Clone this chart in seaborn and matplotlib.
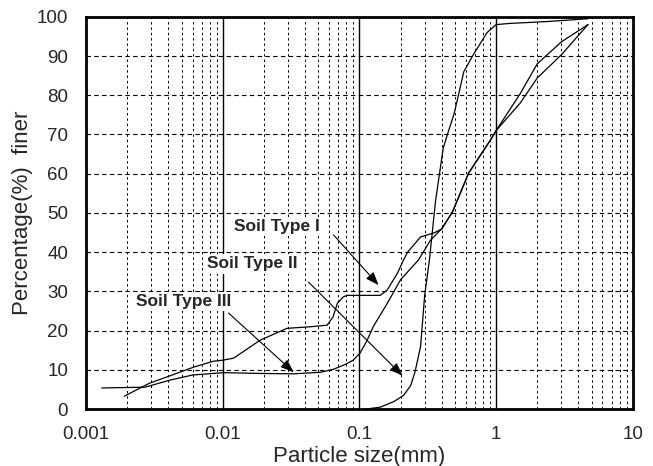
import numpy as np
import pandas as pd
import matplotlib
matplotlib.use("Agg")
import matplotlib.pyplot as plt
from matplotlib.ticker import LogLocator, FixedLocator, NullFormatter
import seaborn as sns

# Grain size distribution curves
soil_1_size = [0.0019, 0.0029, 0.0045, 0.0061, 0.0085, 0.0101, 0.012, 0.0188, 0.0295, 0.044,
               0.058, 0.064, 0.069, 0.076, 0.081, 0.10, 0.142, 0.16, 0.19, 0.21, 0.225, 0.28,
               0.35, 0.40, 0.48, 0.63, 0.91, 1.0, 1.5, 2.0, 3.0, 4.7]
soil_1_finer = [3.3, 6.6, 9.0, 10.7, 12.2, 12.5, 13.0, 17.6, 20.6, 21.0,
                21.4, 23.5, 27.0, 28.6, 29.0, 29.0, 29.0, 30.4, 34.7, 38.0, 40.0, 43.9,
                44.9, 45.9, 50.3, 60.2, 68.6, 71.0, 80.4, 88.0, 93.6, 98.0]

soil_2_size = [0.11, 0.142, 0.18, 0.21, 0.237, 0.255, 0.28, 0.30, 0.325, 0.36, 0.41, 0.44,
               0.49, 0.52, 0.58, 0.68, 0.86, 1.0, 1.25, 2.4, 4.7]
soil_2_finer = [0.0, 0.5, 2.0, 3.5, 6.0, 9.5, 16.0, 29.0, 38.0, 53.0, 66.5, 70.0,
                75.0, 78.8, 86.0, 90.3, 96.0, 98.0, 98.3, 98.8, 99.5]

soil_3_size = [0.0013, 0.0027, 0.0041, 0.006, 0.0101, 0.0188, 0.033, 0.052, 0.065, 0.08,
               0.09, 0.101, 0.114, 0.126, 0.16, 0.2, 0.27, 0.33, 0.40, 0.48, 0.63, 0.91,
               1.0, 1.5, 2.0, 3.0, 4.7]
soil_3_finer = [5.4, 5.6, 7.4, 8.7, 9.3, 9.1, 9.0, 9.4, 10.2, 11.5,
                12.5, 14.3, 17.6, 21.0, 27.0, 33.0, 38.0, 43.0, 46.0, 50.3, 60.2, 68.6,
                71.0, 78.0, 84.4, 90.3, 98.0]

soil_names = ["Soil Type I", "Soil Type II", "Soil Type III"]

x_ticks = [0.001, 0.01, 0.1, 1, 10]
x_tick_labels = ["0.001", "0.01", "0.1", "1", "10"]
y_ticks = list(range(0, 101, 10))

frames = []
for name, size, finer in zip(soil_names,
                             [soil_1_size, soil_2_size, soil_3_size],
                             [soil_1_finer, soil_2_finer, soil_3_finer]):
    frames.append(pd.DataFrame({"size": size, "finer": finer, "soil": name}))
df = pd.concat(frames, ignore_index=True)

sns.set_style("white")
plt.rcParams['font.family'] = ['Liberation Sans', 'DejaVu Sans']

fig = plt.figure(figsize=(6.53, 4.66), dpi=100)
ax = fig.add_axes([0.132, 0.122, 0.837, 0.842])

# Grid first so the curves sit on top
for dec in [0.001, 0.01, 0.1, 1]:
    for m in range(2, 10):
        ax.axvline(dec * m, color="black", lw=0.7, ls=(0, (2.5, 3)), zorder=1)
for v in [0.01, 0.1, 1]:
    ax.axvline(v, color="black", lw=1.0, zorder=1)
for h in range(10, 100, 10):
    ax.axhline(h, color="black", lw=0.8, ls=(0, (4, 3)), zorder=1)

sns.lineplot(data=df, x="size", y="finer", units="soil", estimator=None,
             color="black", lw=0.9, ax=ax, zorder=3, legend=False)

ax.set_xscale("log")
ax.set_xlim(0.001, 10)
ax.set_ylim(0, 100)
ax.xaxis.set_major_locator(FixedLocator(x_ticks))
ax.set_xticklabels(x_tick_labels)
ax.xaxis.set_minor_locator(LogLocator(base=10, subs=np.arange(2, 10)))
ax.xaxis.set_minor_formatter(NullFormatter())
ax.set_yticks(y_ticks)
ax.tick_params(axis="x", which="major", direction="in", length=3, width=1,
               labelsize=13.5, pad=12)
ax.tick_params(axis="y", which="major", direction="in", length=3, width=1,
               labelsize=13.5, pad=13)
ax.tick_params(axis="x", which="minor", direction="in", length=4, width=0.8)

for s in ax.spines.values():
    s.set_visible(True)
    s.set_color("black")
    s.set_linewidth(2.0)

ax.set_xlabel("Particle size(mm)", fontsize=16, labelpad=2)
ax.set_ylabel("Percentage(%)  finer", fontsize=16, labelpad=3)

# Labels with pointer arrows
arrow = dict(arrowstyle="-|>,head_length=0.8,head_width=0.3", color="black",
             lw=0.8, shrinkA=0, shrinkB=0)
box = dict(facecolor="white", edgecolor="none", pad=1.5)
ax.text(0.012, 46.6, soil_names[0], fontsize=12.5, fontweight="bold",
        va="center", bbox=box, zorder=4)
ax.annotate("", xy=(0.138, 31.6), xytext=(0.0646, 44.4), arrowprops=arrow, zorder=4)
ax.text(0.0077, 37.0, soil_names[1], fontsize=12.5, fontweight="bold",
        va="center", bbox=box, zorder=4)
ax.annotate("", xy=(0.207, 8.5), xytext=(0.0423, 32.4), arrowprops=arrow, zorder=4)
ax.text(0.0023, 27.4, soil_names[2], fontsize=12.5, fontweight="bold",
        va="center", bbox=box, zorder=4)
ax.annotate("", xy=(0.033, 9.4), xytext=(0.011, 24.5), arrowprops=arrow, zorder=4)

fig.savefig("out.png", dpi=100, facecolor="white")
